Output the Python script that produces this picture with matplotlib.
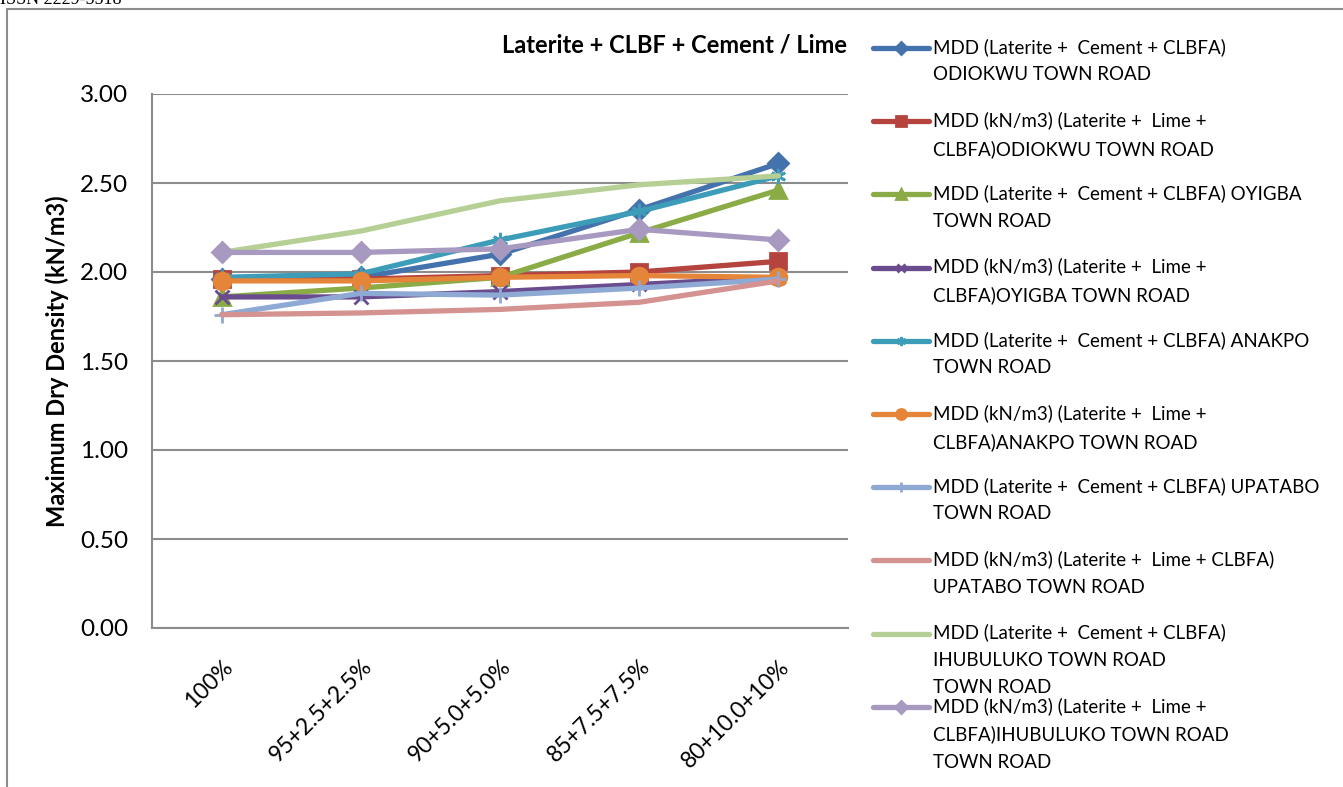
import matplotlib.pyplot as plt
from matplotlib.lines import Line2D
from matplotlib.patches import Rectangle

plt.rcParams['font.family'] = ['Lato', 'DejaVu Sans']

mixes = ['100%', '95+2.5+2.5%', '90+5.0+5.0%', '85+7.5+7.5%', '80+10.0+10%']

odiokwu_cement = [1.96, 1.97, 2.10, 2.35, 2.61]
odiokwu_lime = [1.96, 1.96, 1.98, 2.00, 2.06]
oyigba_cement = [1.86, 1.91, 1.97, 2.22, 2.46]
oyigba_lime = [1.86, 1.86, 1.89, 1.93, 1.97]
anakpo_cement = [1.97, 1.99, 2.18, 2.34, 2.54]
anakpo_lime = [1.95, 1.95, 1.97, 1.98, 1.97]
upatabo_cement = [1.76, 1.88, 1.87, 1.91, 1.96]
upatabo_lime = [1.76, 1.77, 1.79, 1.83, 1.95]
ihubuluko_cement = [2.11, 2.23, 2.40, 2.49, 2.54]
ihubuluko_lime = [2.11, 2.11, 2.13, 2.24, 2.18]

labels = [
    'MDD (Laterite +  Cement + CLBFA)\nODIOKWU TOWN ROAD',
    'MDD (kN/m3) (Laterite +  Lime +\nCLBFA)ODIOKWU TOWN ROAD',
    'MDD (Laterite +  Cement + CLBFA) OYIGBA\nTOWN ROAD',
    'MDD (kN/m3) (Laterite +  Lime +\nCLBFA)OYIGBA TOWN ROAD',
    'MDD (Laterite +  Cement + CLBFA) ANAKPO\nTOWN ROAD',
    'MDD (kN/m3) (Laterite +  Lime +\nCLBFA)ANAKPO TOWN ROAD',
    'MDD (Laterite +  Cement + CLBFA) UPATABO\nTOWN ROAD',
    'MDD (kN/m3) (Laterite +  Lime + CLBFA)\nUPATABO TOWN ROAD',
    'MDD (Laterite +  Cement + CLBFA)\nIHUBULUKO TOWN ROAD\nTOWN ROAD',
    'MDD (kN/m3) (Laterite +  Lime +\nCLBFA)IHUBULUKO TOWN ROAD\nTOWN ROAD',
]
series = [odiokwu_cement, odiokwu_lime, oyigba_cement, oyigba_lime, anakpo_cement,
          anakpo_lime, upatabo_cement, upatabo_lime, ihubuluko_cement, ihubuluko_lime]
colors = ['#4472ad', '#b5443f', '#8aab46', '#6a4c8e', '#3d9db8',
          '#e5853a', '#8ea9d4', '#d49290', '#b6cf94', '#a799c0']
markers = ['D', 's', '^', 'x', (6, 2, 0), 'o', '+', '', '', 'D']
msizes = [10, 11, 11, 10, 11, 12, 12, 0, 0, 10]

W, H = 1343, 787
fig = plt.figure(figsize=(W / 100, H / 100), dpi=100)
ax = fig.add_axes([152 / W, 1 - 628 / H, 696 / W, 534 / H])

x = list(range(len(mixes)))
for s, c, m, ms in zip(series, colors, markers, msizes):
    ax.plot(x, s, color=c, lw=3.8, marker=m, markersize=ms,
            markeredgecolor=c, markeredgewidth=2, solid_capstyle='round')

ax.set_xlim(-0.5, 4.5)
ax.set_ylim(0, 3)
ax.set_yticks([0, 0.5, 1, 1.5, 2, 2.5, 3])
ax.set_yticklabels(['%.2f' % v for v in ax.get_yticks()], fontsize=17.5)
ax.set_xticks(x)
ax.set_xticklabels(mixes, fontsize=16.5, rotation=45, ha='right', rotation_mode='anchor')
ax.tick_params(length=0)
ax.tick_params(axis='y', pad=17)
ax.tick_params(axis='x', pad=20)
ax.yaxis.grid(True, color='#8c8c8c', lw=1.5)
ax.set_axisbelow(True)
for side in ['top', 'right']:
    ax.spines[side].set_visible(False)
for side in ['left', 'bottom']:
    ax.spines[side].set_color('#8c8c8c')
    ax.spines[side].set_linewidth(1.5)
ax.set_ylabel('Maximum Dry Density (kN/m3)', fontsize=17, fontweight='bold', labelpad=8)

fig.text(675 / W, 1 - 45 / H, 'Laterite + CLBF + Cement / Lime', fontsize=17,
         fontweight='bold', ha='center', va='center')

# legend drawn by hand so the entries keep Excel's fixed spacing
for i, (lab, c, m, ms) in enumerate(zip(labels, colors, markers, msizes)):
    yy = 1 - (48 + 73.2 * i) / H
    fig.add_artist(Line2D([873 / W, 901 / W, 929 / W], [yy, yy, yy], transform=fig.transFigure,
                          color=c, lw=3.8, marker=m, markersize=ms * 0.6, markevery=[1],
                          markeredgecolor=c, markeredgewidth=2, solid_capstyle='round'))
    fig.text(933 / W, yy + 10 / H, lab, fontsize=13.5, va='top', ha='left', linespacing=1.74)

fig.add_artist(Rectangle((7 / W, -0.01), 1.0, 1 - 9 / H + 0.01, transform=fig.transFigure,
                         fill=False, edgecolor='#8c8c8c', lw=1.5))
fig.text(0.0, 1.0, 'ISSN 2229-5518', fontsize=13, family='Liberation Serif',
         ha='left', va='center')

fig.savefig('out.png', dpi=100)
